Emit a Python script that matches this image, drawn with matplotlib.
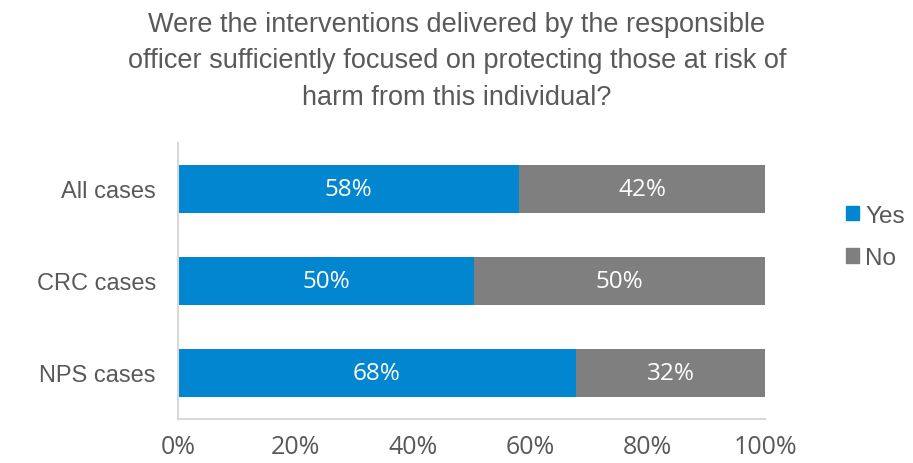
import matplotlib
matplotlib.use("Agg")
import matplotlib.pyplot as plt
from matplotlib.patches import Patch

categories = ["All cases", "CRC cases", "NPS cases"]
yes_vals = [58.1, 50.4, 67.8]
no_vals = [41.9, 49.6, 32.2]
xticks = [0, 20, 40, 60, 80, 100]
title = ("Were the interventions delivered by the responsible\n"
         "officer sufficiently focused on protecting those at risk of\n"
         "harm from this individual?")

BLUE = "#0286D0"
GREY = "#7F7F7F"
TXT = "#595959"

fig = plt.figure(figsize=(9.13, 4.64), dpi=100)
ax = fig.add_axes([178/913, 44/464, (765-178)/913, (420-144)/464])

ypos = list(range(len(categories)))[::-1]
ax.barh(ypos, yes_vals, height=0.52, color=BLUE, label="Yes")
ax.barh(ypos, no_vals, left=yes_vals, height=0.52, color=GREY, label="No")

lab_font = ["Open Sans", "DejaVu Sans"]
for y, a, b in zip(ypos, yes_vals, no_vals):
    ax.text(a/2, y, f"{round(a)}%", ha="center", va="center", color="white",
            fontsize=17.5, family=lab_font)
    ax.text(a + b/2, y, f"{round(b)}%", ha="center", va="center", color="white",
            fontsize=17.5, family=lab_font)

ax.set_xlim(0, 100)
ax.set_ylim(-0.5, len(categories) - 0.5)
ax.set_yticks(ypos)
ax.set_yticklabels(categories, fontsize=17, color=TXT, family="Liberation Sans")
ax.set_xticks(xticks)
ax.set_xticklabels([f"{t}%" for t in xticks], fontsize=18, color=TXT, family=lab_font)
ax.tick_params(axis="both", length=0)
ax.tick_params(axis="x", pad=11)
ax.tick_params(axis="y", pad=16)
for s in ["top", "right"]:
    ax.spines[s].set_visible(False)
for s in ["left", "bottom"]:
    ax.spines[s].set_color("#D9D9D9")
    ax.spines[s].set_linewidth(1.5)

fig.text(457/913, 1 - 12/464, title, ha="center", va="top", fontsize=19.5,
         color=TXT, family="Liberation Sans", linespacing=1.52)

handles = [Patch(color=BLUE, label="Yes"), Patch(color=GREY, label="No")]
fig.legend(handles=handles, loc="center left", bbox_to_anchor=(846/913, 1 - 238/464),
           frameon=False, borderaxespad=0, borderpad=0,
           handlelength=0.55, handleheight=0.55,
           handletextpad=0.25, labelspacing=0.85, labelcolor=TXT,
           prop={"family": "Liberation Sans", "size": 17.5})

fig.savefig("out.png", dpi=100)
